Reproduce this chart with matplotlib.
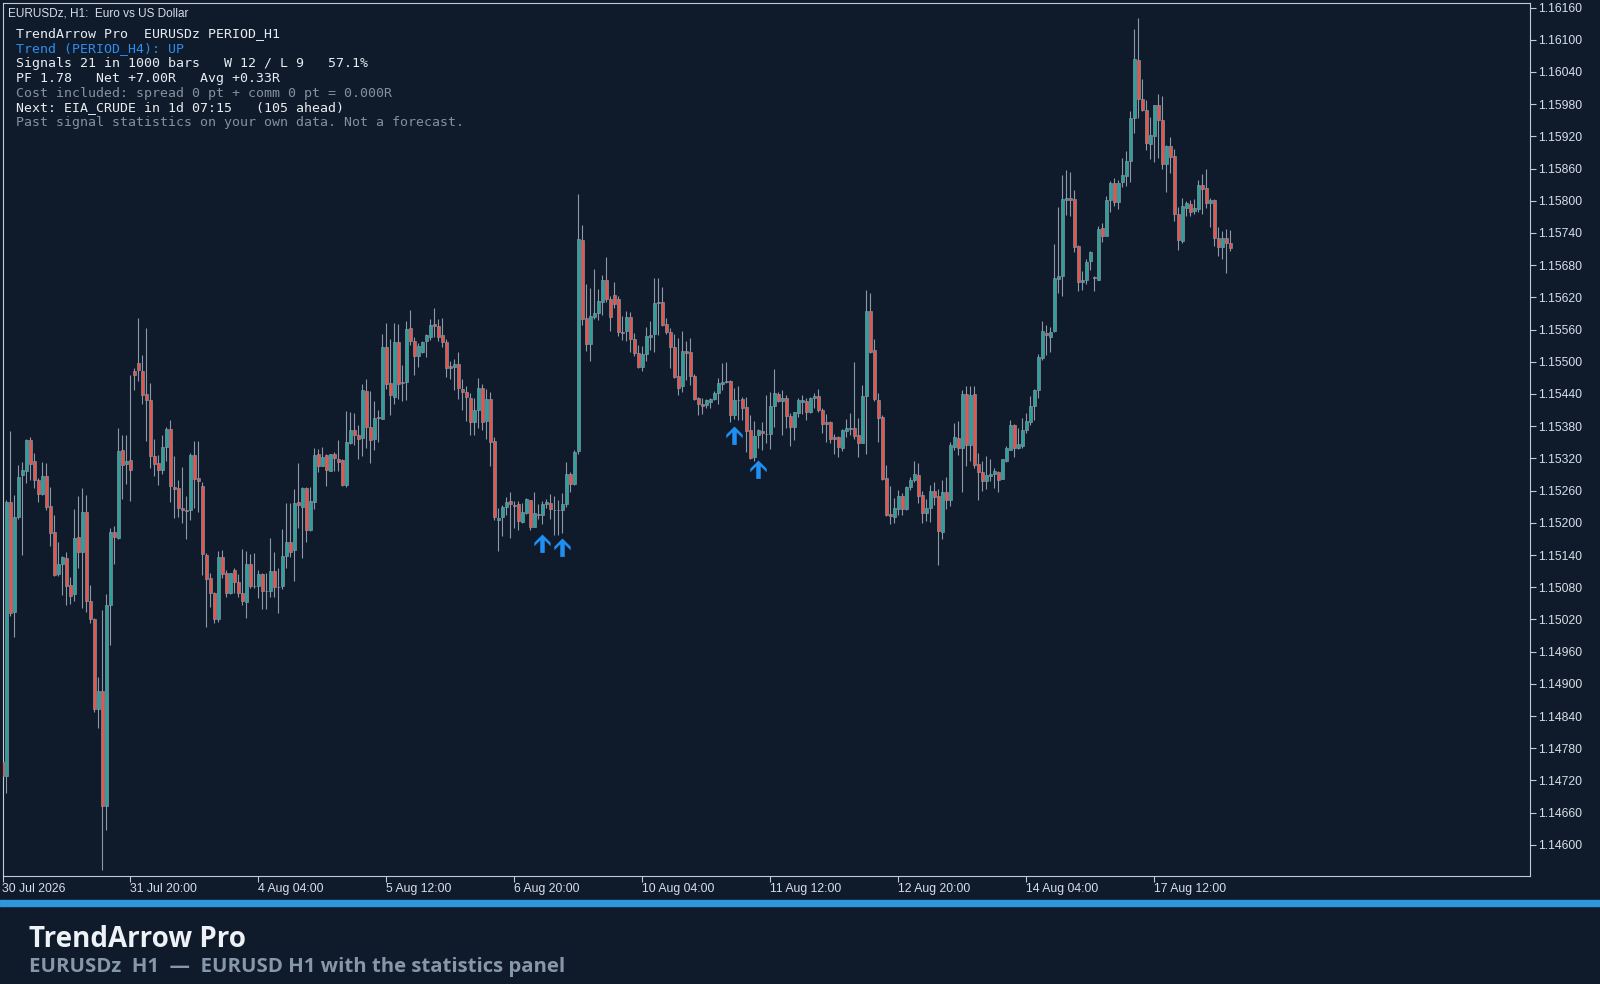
import matplotlib
matplotlib.use("Agg")
import matplotlib.pyplot as plt
from matplotlib.path import Path
import numpy as np

# ---------------- data (EURUSDz H1, 30 Jul 12:00 -> 18 Aug 07:00) ----------------
opens = [
    1.14755, 1.14728, 1.15239, 1.15033, 1.15211, 1.15289, 1.15296, 1.15355, 1.15316, 1.15280,
    1.15253, 1.15287, 1.15231, 1.15182, 1.15104, 1.15123, 1.15135, 1.15084, 1.15067, 1.15174,
    1.15145, 1.15220, 1.15054, 1.15021, 1.14854, 1.14887, 1.14672, 1.15047, 1.15183, 1.15172,
    1.15336, 1.15309, 1.15317, 1.15482, 1.15497, 1.15482, 1.15440, 1.15428, 1.15324, 1.15311,
    1.15299, 1.15342, 1.15374, 1.15267, 1.15265, 1.15227, 1.15223, 1.15223, 1.15326, 1.15284,
    1.15269, 1.15140, 1.15098, 1.15070, 1.15021, 1.15137, 1.15106, 1.15070, 1.15113, 1.15089,
    1.15070, 1.15053, 1.15124, 1.15083, 1.15083, 1.15104, 1.15073, 1.15073, 1.15110, 1.15081,
    1.15083, 1.15139, 1.15164, 1.15150, 1.15239, 1.15230, 1.15265, 1.15186, 1.15239, 1.15329,
    1.15306, 1.15326, 1.15297, 1.15328, 1.15318, 1.15317, 1.15270, 1.15349, 1.15372, 1.15363,
    1.15358, 1.15445, 1.15379, 1.15357, 1.15398, 1.15394, 1.15527, 1.15460, 1.15435, 1.15536,
    1.15462, 1.15463, 1.15563, 1.15539, 1.15510, 1.15519, 1.15538, 1.15547, 1.15571, 1.15566,
    1.15550, 1.15537, 1.15493, 1.15491, 1.15496, 1.15450, 1.15443, 1.15432, 1.15387, 1.15411,
    1.15452, 1.15389, 1.15431, 1.15352, 1.15206, 1.15210, 1.15230, 1.15240, 1.15234, 1.15235,
    1.15201, 1.15218, 1.15242, 1.15193, 1.15217, 1.15215, 1.15235, 1.15237, 1.15224, 1.15224,
    1.15224, 1.15235, 1.15291, 1.15272, 1.15333, 1.15727, 1.15581, 1.15533, 1.15584, 1.15591,
    1.15612, 1.15653, 1.15617, 1.15625, 1.15617, 1.15555, 1.15557, 1.15583, 1.15542, 1.15517,
    1.15491, 1.15515, 1.15547, 1.15552, 1.15609, 1.15612, 1.15570, 1.15555, 1.15527, 1.15473,
    1.15454, 1.15521, 1.15518, 1.15474, 1.15432, 1.15422, 1.15419, 1.15426, 1.15430, 1.15442,
    1.15459, 1.15462, 1.15465, 1.15400, 1.15428, 1.15430, 1.15416, 1.15372, 1.15322, 1.15363,
    1.15371, 1.15366, 1.15366, 1.15417, 1.15440, 1.15427, 1.15433, 1.15399, 1.15379, 1.15404,
    1.15425, 1.15427, 1.15406, 1.15433, 1.15436, 1.15410, 1.15387, 1.15387, 1.15359, 1.15359,
    1.15340, 1.15371, 1.15374, 1.15377, 1.15363, 1.15349, 1.15436, 1.15594, 1.15522, 1.15428,
    1.15397, 1.15283, 1.15216, 1.15211, 1.15225, 1.15250, 1.15225, 1.15267, 1.15279, 1.15289,
    1.15252, 1.15219, 1.15227, 1.15260, 1.15250, 1.15183, 1.15257, 1.15243, 1.15342, 1.15358,
    1.15340, 1.15440, 1.15345, 1.15440, 1.15310, 1.15294, 1.15278, 1.15288, 1.15291, 1.15294,
    1.15282, 1.15316, 1.15336, 1.15383, 1.15340, 1.15344, 1.15372, 1.15387, 1.15418, 1.15447,
    1.15507, 1.15553, 1.15547, 1.15557, 1.15655, 1.15660, 1.15802, 1.15806, 1.15803, 1.15715,
    1.15649, 1.15653, 1.15688, 1.15658, 1.15653, 1.15750, 1.15735, 1.15801, 1.15834, 1.15798,
    1.15835, 1.15846, 1.15874, 1.15955, 1.16063, 1.15989, 1.15970, 1.15905, 1.15920, 1.15979,
    1.15950, 1.15869, 1.15902, 1.15883, 1.15775, 1.15725, 1.15787, 1.15794, 1.15781, 1.15784,
    1.15829, 1.15823, 1.15796, 1.15802, 1.15731, 1.15714, 1.15731, 1.15722,
]
highs = [
    1.14763, 1.15242, 1.15371, 1.15252, 1.15308, 1.15313, 1.15357, 1.15359, 1.15330, 1.15283,
    1.15313, 1.15312, 1.15267, 1.15214, 1.15165, 1.15138, 1.15145, 1.15099, 1.15225, 1.15250,
    1.15264, 1.15252, 1.15084, 1.15023, 1.14912, 1.15038, 1.15068, 1.15191, 1.15194, 1.15377,
    1.15363, 1.15363, 1.15475, 1.15489, 1.15582, 1.15512, 1.15563, 1.15460, 1.15357, 1.15326,
    1.15363, 1.15378, 1.15391, 1.15325, 1.15280, 1.15304, 1.15250, 1.15331, 1.15353, 1.15353,
    1.15276, 1.15143, 1.15106, 1.15072, 1.15147, 1.15149, 1.15112, 1.15107, 1.15115, 1.15105,
    1.15152, 1.15148, 1.15142, 1.15143, 1.15112, 1.15106, 1.15106, 1.15172, 1.15145, 1.15115,
    1.15188, 1.15236, 1.15236, 1.15263, 1.15311, 1.15267, 1.15267, 1.15267, 1.15339, 1.15337,
    1.15342, 1.15328, 1.15329, 1.15332, 1.15355, 1.15319, 1.15408, 1.15407, 1.15405, 1.15382,
    1.15458, 1.15468, 1.15445, 1.15427, 1.15410, 1.15552, 1.15573, 1.15542, 1.15572, 1.15570,
    1.15494, 1.15576, 1.15597, 1.15547, 1.15535, 1.15539, 1.15552, 1.15579, 1.15601, 1.15579,
    1.15581, 1.15543, 1.15501, 1.15506, 1.15518, 1.15468, 1.15455, 1.15442, 1.15432, 1.15470,
    1.15458, 1.15450, 1.15443, 1.15360, 1.15227, 1.15234, 1.15249, 1.15257, 1.15240, 1.15241,
    1.15237, 1.15246, 1.15243, 1.15257, 1.15235, 1.15241, 1.15245, 1.15254, 1.15250, 1.15243,
    1.15255, 1.15313, 1.15294, 1.15335, 1.15813, 1.15755, 1.15645, 1.15637, 1.15673, 1.15635,
    1.15661, 1.15695, 1.15622, 1.15648, 1.15623, 1.15586, 1.15594, 1.15592, 1.15553, 1.15532,
    1.15529, 1.15565, 1.15576, 1.15656, 1.15656, 1.15639, 1.15581, 1.15563, 1.15552, 1.15544,
    1.15558, 1.15538, 1.15544, 1.15478, 1.15435, 1.15432, 1.15430, 1.15433, 1.15445, 1.15470,
    1.15497, 1.15499, 1.15467, 1.15452, 1.15455, 1.15435, 1.15434, 1.15401, 1.15390, 1.15375,
    1.15387, 1.15438, 1.15444, 1.15486, 1.15444, 1.15448, 1.15438, 1.15405, 1.15407, 1.15432,
    1.15438, 1.15432, 1.15435, 1.15441, 1.15449, 1.15413, 1.15402, 1.15390, 1.15365, 1.15361,
    1.15374, 1.15394, 1.15404, 1.15500, 1.15396, 1.15456, 1.15633, 1.15629, 1.15543, 1.15441,
    1.15401, 1.15307, 1.15268, 1.15247, 1.15262, 1.15256, 1.15269, 1.15286, 1.15315, 1.15312,
    1.15259, 1.15245, 1.15271, 1.15276, 1.15263, 1.15280, 1.15286, 1.15350, 1.15386, 1.15390,
    1.15447, 1.15455, 1.15455, 1.15455, 1.15331, 1.15316, 1.15324, 1.15318, 1.15302, 1.15296,
    1.15319, 1.15344, 1.15392, 1.15385, 1.15377, 1.15395, 1.15404, 1.15436, 1.15449, 1.15515,
    1.15576, 1.15569, 1.15565, 1.15720, 1.15789, 1.15848, 1.15858, 1.15853, 1.15820, 1.15718,
    1.15669, 1.15691, 1.15707, 1.15659, 1.15753, 1.15758, 1.15809, 1.15836, 1.15843, 1.15838,
    1.15879, 1.15893, 1.15967, 1.16120, 1.16140, 1.16027, 1.15987, 1.15956, 1.15979, 1.15999,
    1.15995, 1.15904, 1.15919, 1.15896, 1.15789, 1.15805, 1.15799, 1.15802, 1.15803, 1.15838,
    1.15850, 1.15859, 1.15805, 1.15804, 1.15751, 1.15743, 1.15748, 1.15745,
]
lows = [
    1.14718, 1.14696, 1.15027, 1.14987, 1.15208, 1.15140, 1.15275, 1.15279, 1.15265, 1.15238,
    1.15252, 1.15223, 1.15156, 1.15101, 1.15101, 1.15065, 1.15047, 1.15049, 1.15055, 1.15116,
    1.15042, 1.15034, 1.15013, 1.14847, 1.14817, 1.14553, 1.14627, 1.14973, 1.15124, 1.15170,
    1.15244, 1.15272, 1.15240, 1.15448, 1.15464, 1.15421, 1.15352, 1.15302, 1.15287, 1.15271,
    1.15291, 1.15316, 1.15238, 1.15209, 1.15210, 1.15199, 1.15169, 1.15206, 1.15228, 1.15220,
    1.15103, 1.15005, 1.15044, 1.15014, 1.15016, 1.15097, 1.15062, 1.15067, 1.15069, 1.15062,
    1.15046, 1.15022, 1.15078, 1.15078, 1.15059, 1.15039, 1.15039, 1.15062, 1.15062, 1.15032,
    1.15076, 1.15116, 1.15136, 1.15092, 1.15191, 1.15135, 1.15165, 1.15184, 1.15226, 1.15295,
    1.15305, 1.15269, 1.15296, 1.15297, 1.15297, 1.15268, 1.15267, 1.15347, 1.15345, 1.15319,
    1.15325, 1.15340, 1.15311, 1.15336, 1.15351, 1.15393, 1.15449, 1.15401, 1.15422, 1.15430,
    1.15427, 1.15428, 1.15532, 1.15476, 1.15491, 1.15516, 1.15509, 1.15541, 1.15547, 1.15538,
    1.15527, 1.15471, 1.15468, 1.15447, 1.15431, 1.15411, 1.15389, 1.15364, 1.15364, 1.15376,
    1.15373, 1.15357, 1.15305, 1.15206, 1.15148, 1.15176, 1.15215, 1.15171, 1.15190, 1.15186,
    1.15199, 1.15216, 1.15186, 1.15192, 1.15207, 1.15198, 1.15227, 1.15207, 1.15178, 1.15178,
    1.15181, 1.15230, 1.15257, 1.15271, 1.15328, 1.15568, 1.15520, 1.15502, 1.15579, 1.15578,
    1.15588, 1.15612, 1.15558, 1.15600, 1.15548, 1.15541, 1.15538, 1.15519, 1.15510, 1.15488,
    1.15482, 1.15501, 1.15522, 1.15519, 1.15550, 1.15567, 1.15552, 1.15489, 1.15470, 1.15439,
    1.15443, 1.15466, 1.15457, 1.15429, 1.15401, 1.15403, 1.15414, 1.15414, 1.15429, 1.15422,
    1.15448, 1.15460, 1.15387, 1.15393, 1.15392, 1.15391, 1.15332, 1.15319, 1.15316, 1.15339,
    1.15336, 1.15348, 1.15338, 1.15378, 1.15425, 1.15363, 1.15376, 1.15343, 1.15354, 1.15397,
    1.15402, 1.15392, 1.15404, 1.15413, 1.15407, 1.15368, 1.15351, 1.15349, 1.15328, 1.15323,
    1.15334, 1.15360, 1.15363, 1.15357, 1.15323, 1.15348, 1.15328, 1.15517, 1.15427, 1.15351,
    1.15279, 1.15212, 1.15197, 1.15200, 1.15214, 1.15214, 1.15224, 1.15261, 1.15276, 1.15236,
    1.15200, 1.15203, 1.15201, 1.15234, 1.15121, 1.15170, 1.15226, 1.15232, 1.15336, 1.15326,
    1.15257, 1.15305, 1.15316, 1.15302, 1.15243, 1.15259, 1.15263, 1.15278, 1.15265, 1.15257,
    1.15281, 1.15313, 1.15335, 1.15322, 1.15338, 1.15340, 1.15368, 1.15383, 1.15391, 1.15432,
    1.15503, 1.15512, 1.15519, 1.15555, 1.15628, 1.15622, 1.15773, 1.15771, 1.15704, 1.15631,
    1.15633, 1.15645, 1.15671, 1.15632, 1.15652, 1.15723, 1.15734, 1.15779, 1.15791, 1.15784,
    1.15825, 1.15828, 1.15835, 1.15927, 1.15955, 1.15968, 1.15895, 1.15877, 1.15872, 1.15879,
    1.15860, 1.15817, 1.15851, 1.15763, 1.15709, 1.15722, 1.15772, 1.15772, 1.15776, 1.15779,
    1.15776, 1.15787, 1.15751, 1.15716, 1.15697, 1.15692, 1.15666, 1.15706,
]
closes = [
    1.14728, 1.15239, 1.15032, 1.15211, 1.15285, 1.15299, 1.15355, 1.15310, 1.15280, 1.15253,
    1.15287, 1.15229, 1.15181, 1.15103, 1.15123, 1.15137, 1.15082, 1.15063, 1.15172, 1.15145,
    1.15220, 1.15054, 1.15021, 1.14853, 1.14887, 1.14672, 1.15047, 1.15182, 1.15174, 1.15334,
    1.15308, 1.15316, 1.15298, 1.15475, 1.15484, 1.15438, 1.15428, 1.15324, 1.15309, 1.15298,
    1.15341, 1.15374, 1.15269, 1.15263, 1.15228, 1.15224, 1.15222, 1.15326, 1.15281, 1.15278,
    1.15142, 1.15095, 1.15070, 1.15020, 1.15136, 1.15104, 1.15069, 1.15106, 1.15089, 1.15070,
    1.15055, 1.15124, 1.15083, 1.15083, 1.15105, 1.15073, 1.15073, 1.15110, 1.15081, 1.15081,
    1.15139, 1.15164, 1.15146, 1.15236, 1.15233, 1.15265, 1.15186, 1.15240, 1.15327, 1.15306,
    1.15323, 1.15298, 1.15328, 1.15320, 1.15314, 1.15270, 1.15350, 1.15373, 1.15363, 1.15357,
    1.15447, 1.15379, 1.15355, 1.15396, 1.15395, 1.15527, 1.15458, 1.15438, 1.15536, 1.15458,
    1.15460, 1.15561, 1.15538, 1.15510, 1.15530, 1.15537, 1.15549, 1.15569, 1.15566, 1.15547,
    1.15536, 1.15489, 1.15489, 1.15496, 1.15451, 1.15443, 1.15434, 1.15387, 1.15411, 1.15451,
    1.15388, 1.15431, 1.15350, 1.15210, 1.15209, 1.15230, 1.15239, 1.15235, 1.15232, 1.15203,
    1.15220, 1.15244, 1.15193, 1.15218, 1.15215, 1.15235, 1.15238, 1.15225, 1.15223, 1.15223,
    1.15235, 1.15291, 1.15272, 1.15332, 1.15729, 1.15579, 1.15533, 1.15586, 1.15591, 1.15614,
    1.15653, 1.15617, 1.15584, 1.15607, 1.15555, 1.15554, 1.15583, 1.15542, 1.15517, 1.15491,
    1.15514, 1.15548, 1.15550, 1.15609, 1.15611, 1.15569, 1.15555, 1.15527, 1.15471, 1.15451,
    1.15521, 1.15516, 1.15473, 1.15430, 1.15421, 1.15418, 1.15429, 1.15431, 1.15442, 1.15460,
    1.15462, 1.15465, 1.15400, 1.15429, 1.15429, 1.15414, 1.15371, 1.15321, 1.15362, 1.15372,
    1.15367, 1.15365, 1.15417, 1.15441, 1.15427, 1.15432, 1.15399, 1.15379, 1.15406, 1.15428,
    1.15428, 1.15406, 1.15433, 1.15436, 1.15410, 1.15385, 1.15385, 1.15357, 1.15357, 1.15341,
    1.15372, 1.15376, 1.15377, 1.15362, 1.15349, 1.15436, 1.15594, 1.15519, 1.15430, 1.15396,
    1.15281, 1.15214, 1.15213, 1.15227, 1.15250, 1.15225, 1.15267, 1.15279, 1.15291, 1.15250,
    1.15219, 1.15227, 1.15260, 1.15249, 1.15184, 1.15257, 1.15242, 1.15345, 1.15360, 1.15340,
    1.15440, 1.15345, 1.15439, 1.15307, 1.15294, 1.15278, 1.15290, 1.15291, 1.15296, 1.15280,
    1.15318, 1.15340, 1.15383, 1.15340, 1.15347, 1.15373, 1.15389, 1.15418, 1.15447, 1.15509,
    1.15558, 1.15549, 1.15555, 1.15657, 1.15660, 1.15803, 1.15806, 1.15801, 1.15713, 1.15648,
    1.15653, 1.15685, 1.15704, 1.15657, 1.15748, 1.15735, 1.15802, 1.15834, 1.15798, 1.15834,
    1.15848, 1.15874, 1.15955, 1.16065, 1.15990, 1.15970, 1.15907, 1.15923, 1.15978, 1.15950,
    1.15869, 1.15902, 1.15882, 1.15775, 1.15727, 1.15790, 1.15795, 1.15779, 1.15786, 1.15829,
    1.15822, 1.15795, 1.15802, 1.15731, 1.15714, 1.15731, 1.15722, 1.15712,
]

xtick_bars = [0, 32, 64, 96, 128, 160, 192, 224, 256, 288]
xtick_labels = ["30 Jul 2026", "31 Jul 20:00", "4 Aug 04:00", "5 Aug 12:00",
                "6 Aug 20:00", "10 Aug 04:00", "11 Aug 12:00", "12 Aug 20:00",
                "14 Aug 04:00", "17 Aug 12:00"]
ytick_values = [1.14600, 1.14660, 1.14720, 1.14780, 1.14840, 1.14900, 1.14960,
                1.15020, 1.15080, 1.15140, 1.15200, 1.15260, 1.15320, 1.15380,
                1.15440, 1.15500, 1.15560, 1.15620, 1.15680, 1.15740, 1.15800,
                1.15860, 1.15920, 1.15980, 1.16040, 1.16100, 1.16160]

signal_bars = [135, 140, 183, 189]
signal_tips = [1.15180, 1.15171, 1.15380, 1.15317]

chart_title = "EURUSDz, H1:  Euro vs US Dollar"
panel_lines = [
    "TrendArrow Pro  EURUSDz PERIOD_H1",
    "Trend (PERIOD_H4): UP",
    "Signals 21 in 1000 bars   W 12 / L 9   57.1%",
    "PF 1.78   Net +7.00R   Avg +0.33R",
    "Cost included: spread 0 pt + comm 0 pt = 0.000R",
    "Next: EIA_CRUDE in 1d 07:15   (105 ahead)",
    "Past signal statistics on your own data. Not a forecast.",
]
panel_kinds = ["main", "trend", "main", "main", "muted", "main", "muted"]
banner_title = "TrendArrow Pro"
banner_sub = "EURUSDz  H1  \u2014  EURUSD H1 with the statistics panel"

# ---------------- style ----------------
BG = "#0f1a2b"
BULL = "#2f9f9c"
BEAR = "#e0574d"
EDGE = "#8b99a8"
FRAME = "#c3cbd4"
TXT = "#d7dee6"
PANEL_COL = {"main": "#e8edf2", "trend": "#2b8ef0", "muted": "#87919c"}
ARROW = "#1f8ff2"
BAND = "#2f95dc"
SUB = "#8797aa"

W, H = 1600, 984
fig = plt.figure(figsize=(W / 100, H / 100), dpi=100, facecolor=BG)

ax_l, ax_r, ax_t, ax_b = 2.5, 1530.0, 2.7, 876.0
ax = fig.add_axes([ax_l / W, 1 - ax_b / H, (ax_r - ax_l) / W, (ax_b - ax_t) / H])
ax.set_facecolor(BG)

o = np.array(opens)
h = np.array(highs)
l = np.array(lows)
c = np.array(closes)
x = np.arange(len(o))

up = c >= o
fills = np.where(up, BULL, BEAR)
body_bot = np.minimum(o, c)
body_h = np.maximum(np.abs(c - o), 1e-7)

ax.vlines(x, l, h, color=EDGE, linewidth=0.8, zorder=2)
ax.bar(x, body_h, bottom=body_bot, width=0.72, color=fills,
       edgecolor=EDGE, linewidth=0.45, zorder=3)

# signal arrows (tip of the arrow at the given price)
arrow_path = Path(
    [(0, 0), (8, -8), (8, -11.5), (2.2, -5.8), (2.2, -18), (-2.2, -18),
     (-2.2, -5.8), (-8, -11.5), (-8, -8), (0, 0)],
    [Path.MOVETO] + [Path.LINETO] * 8 + [Path.CLOSEPOLY])
ax.plot(signal_bars, signal_tips, linestyle="none", marker=arrow_path,
        markersize=26.5, color=ARROW, markeredgewidth=0, zorder=5)

# limits: bar i is drawn at pixel 2.4 + 4 i
ax.set_xlim((ax_l - 2.4) / 4.0, (ax_r - 2.4) / 4.0)
ax.set_ylim(1.14542, 1.16169)

for s in ax.spines.values():
    s.set_color(FRAME)
    s.set_linewidth(0.8)

ax.yaxis.tick_right()
ax.set_yticks(ytick_values)
ax.set_yticklabels([f"{v:.5f}" for v in ytick_values])
ax.set_xticks(xtick_bars)
ax.set_xticklabels(xtick_labels, ha="left")
ax.tick_params(axis="y", direction="out", length=4, width=0.8, color=FRAME,
               labelcolor=TXT, labelsize=8.8, pad=2)
ax.tick_params(axis="x", direction="out", length=4, width=0.8, color=FRAME,
               labelcolor=TXT, labelsize=8.8, pad=1)
for lab in ax.get_xticklabels() + ax.get_yticklabels():
    lab.set_family("Liberation Sans")

# ---------------- texts ----------------
def fx(px):
    return px / W

def fy(py):
    return 1 - py / H

fig.text(fx(8), fy(16), chart_title, color=TXT, fontsize=8.5,
         family="Liberation Sans", va="baseline", ha="left")

for i, (line, kind) in enumerate(zip(panel_lines, panel_kinds)):
    fig.text(fx(15.5), fy(36.7 + 14.95 * i), line, color=PANEL_COL[kind],
             fontsize=9.5, family="DejaVu Sans Mono", va="baseline", ha="left")

# bottom banner
fig.patches.append(plt.Rectangle((0, fy(905.7)), 1, (905.7 - 900) / H,
                                 transform=fig.transFigure, color=BAND, zorder=0))
fig.text(fx(28.7), fy(946.7), banner_title, color="#eef2f6", fontsize=20,
         fontweight="bold", family="Open Sans", va="baseline", ha="left")
fig.text(fx(28.7), fy(972.3), banner_sub, color=SUB, fontsize=14.7,
         fontweight="bold", family="Open Sans", va="baseline", ha="left")

fig.savefig("out.png", dpi=100, facecolor=BG)
